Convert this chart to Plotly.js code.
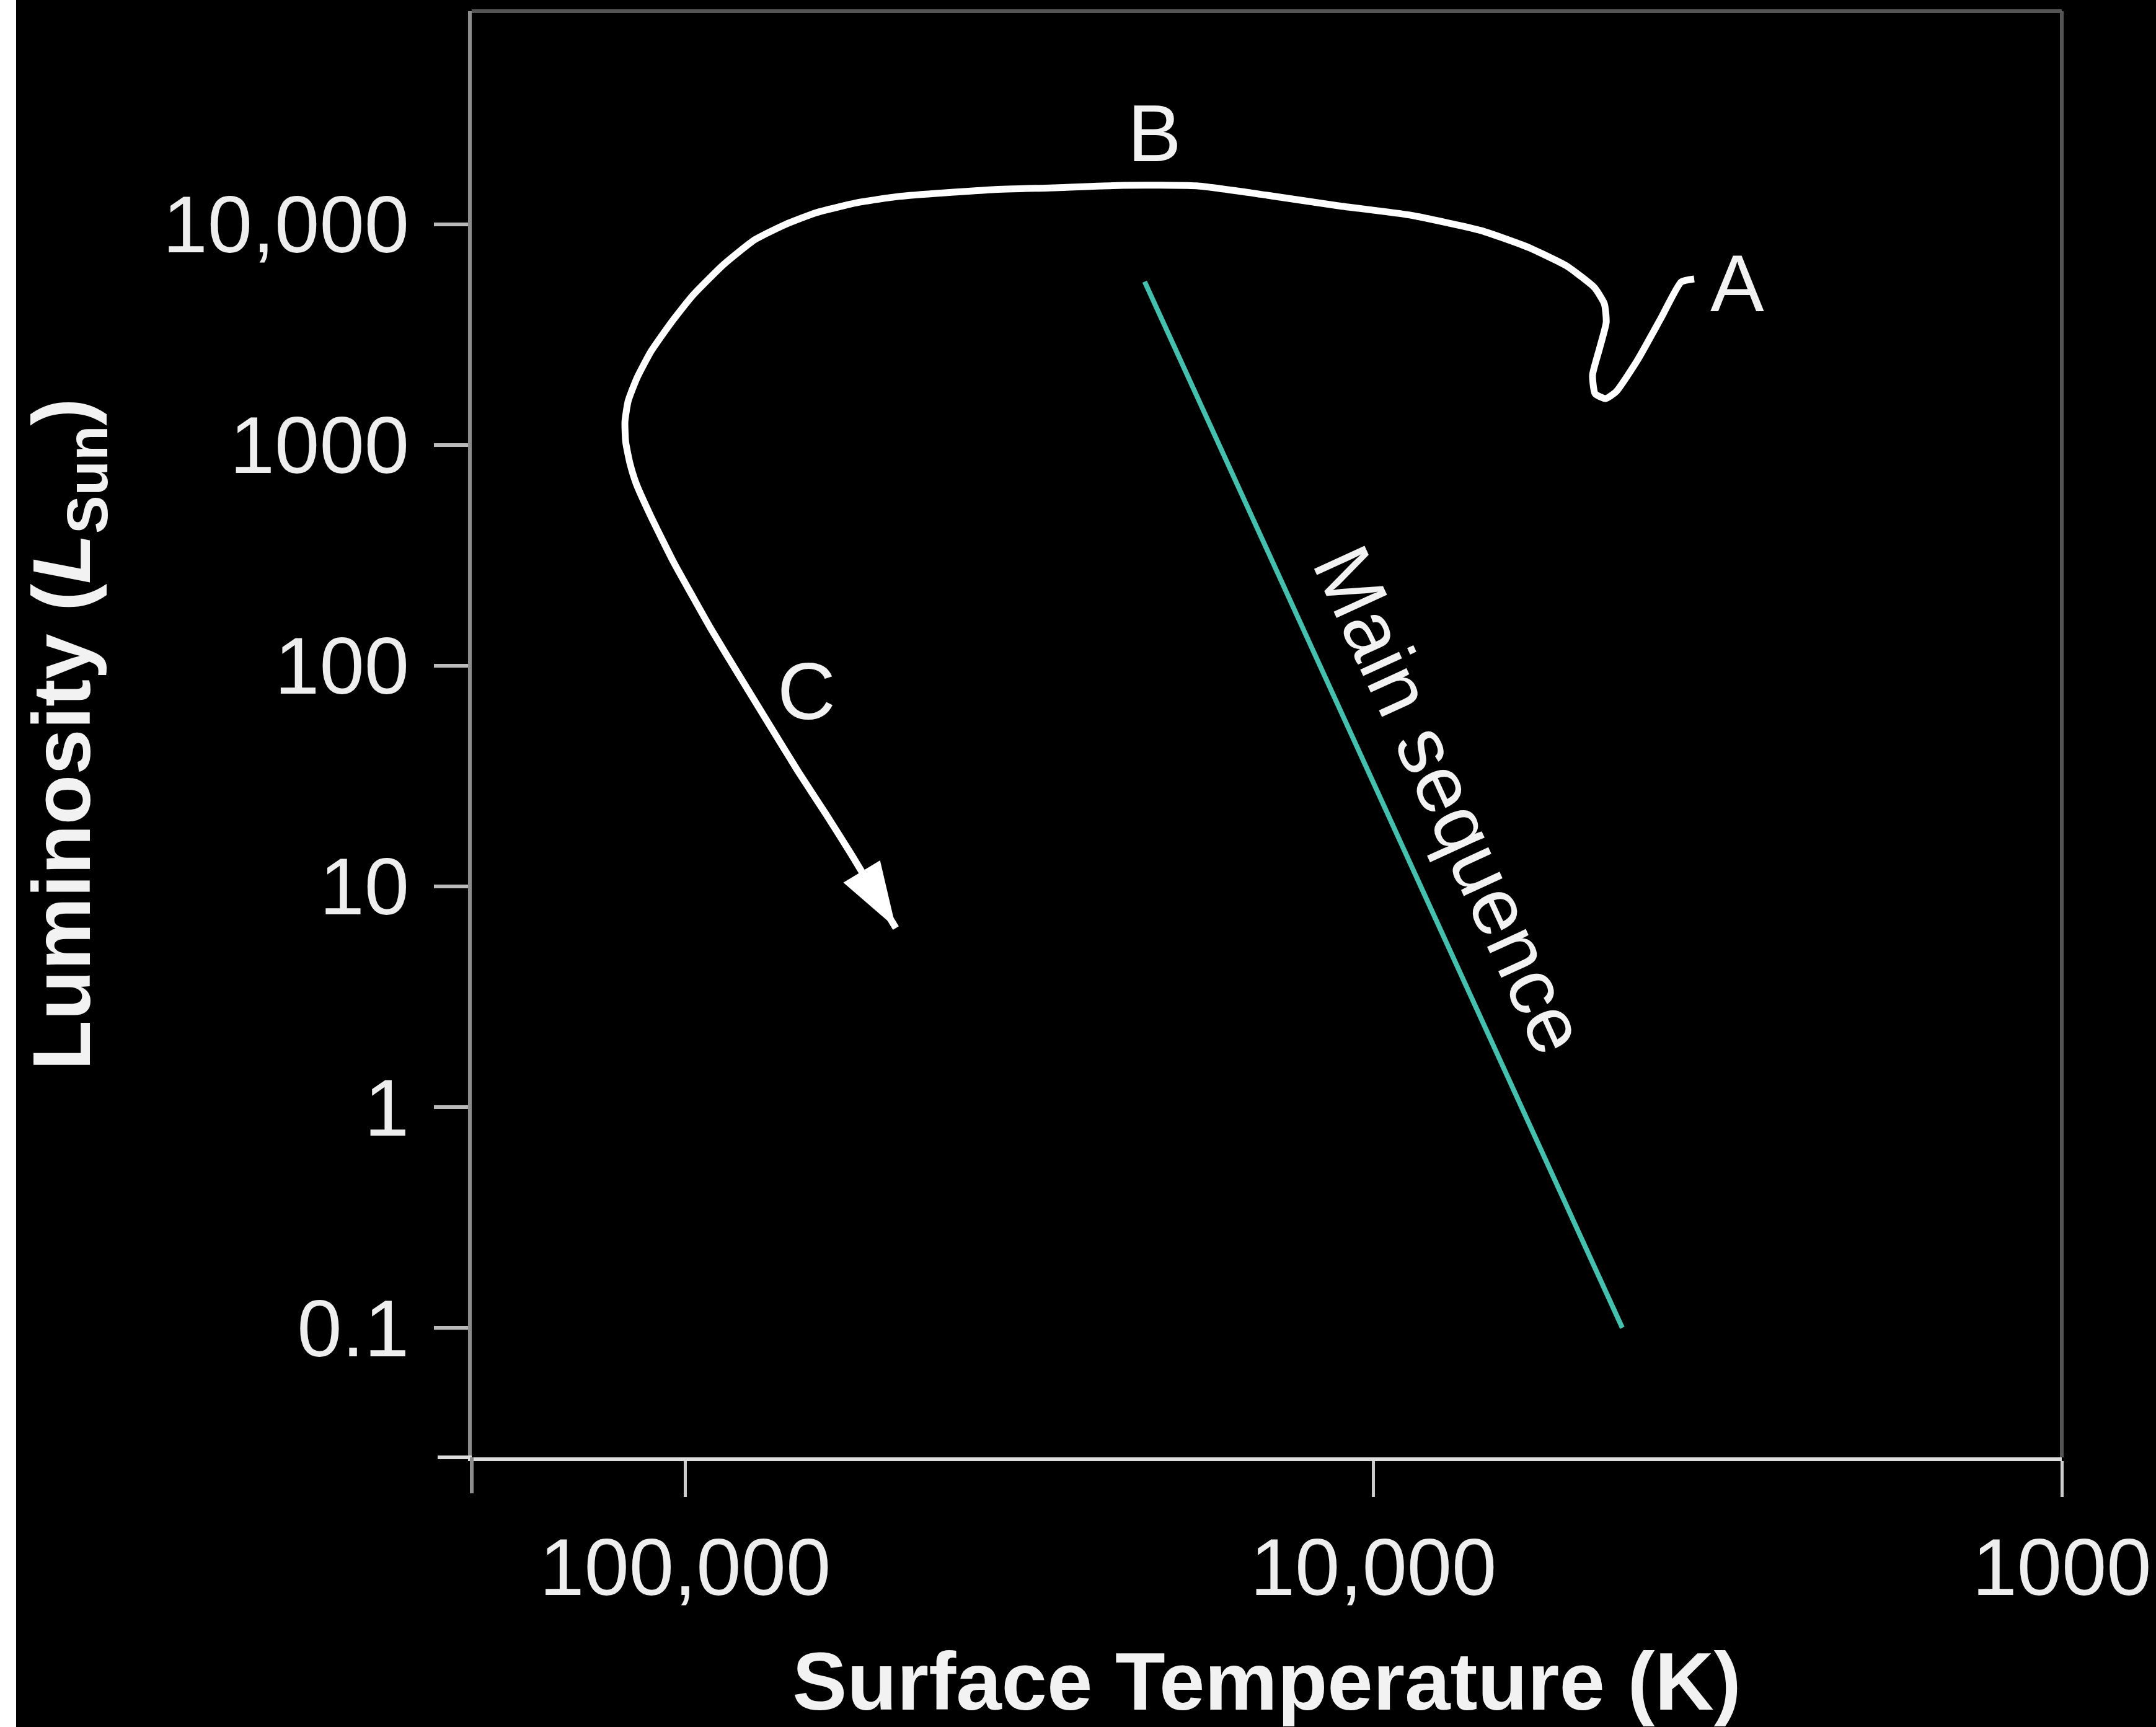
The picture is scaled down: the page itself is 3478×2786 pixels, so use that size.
<!DOCTYPE html>
<html>
<head>
<meta charset="utf-8">
<script src="https://cdn.plot.ly/plotly-3.0.1.min.js"></script>
<style>
  html, body { margin: 0; padding: 0; background: #ffffff; }
  #chart { position: absolute; left: 26px; top: 0; width: 3452px; height: 2786px; }
</style>
</head>
<body>
<div id="chart"></div>
<script>
// ---- Data ----
// Evolutionary track of the star: surface temperature (K) and luminosity (L_Sun), from A via B to C
const trackTemp = [3420, 3572, 3816, 4139, 4441, 4600, 4765, 4805, 4696, 4590, 4619, 4775,
  5243, 5962, 6981, 8858, 11240, 14270, 18070, 23090, 29120, 35760, 48900, 56190, 64440,
  71460, 79270, 87950, 97540, 104700, 112100, 117500, 121000, 122300, 122000, 120300,
  117800, 112800, 108000, 103800, 97540, 91660, 83330, 75570, 68570, 62460, 57370, 49410];
const trackLum = [5659, 5482, 3790, 2410, 1744, 1624, 1711, 2077, 2725, 3599, 4370, 5170,
  6483, 7875, 9374, 11020, 12140, 13550, 14940, 15030, 14640, 14360, 13380, 12540, 11310,
  10000, 8507, 6568, 4753, 3599, 2656, 2011, 1582, 1278, 1033, 828.6,
  669.6, 494, 374.1, 292.6, 206.4, 146.4, 89.6, 54.5, 33.3, 21.3, 14.0, 6.48];

// Main sequence line
const msTemp = [21500, 4350];
const msLum = [5500, 0.1];

// Point labels
const labelText = ['A', 'B', 'C'];
const labelTemp = [2960, 20800, 66700];
const labelLum = [5400, 25900, 76.7];
const msLabelText = 'Main sequence';
const msLabelTemp = 7730;
const msLabelLum = 24.7;

// Axis ticks
const xTickVals = [100000, 10000, 1000];
const xTickText = ['100,000', '10,000', '1000'];
const yTickVals = [0.1, 1, 10, 100, 1000, 10000];
const yTickText = ['0.1', '1', '10', '100', '1000', '10,000'];
const xRangeLog = [5.31, 3];
const yRangeLog = [-1.587, 4.966];

// ---- Chart ----
const FONT = 'Liberation Sans, Arial, Helvetica, sans-serif';
const n = trackTemp.length;
const arrowSizes = trackTemp.map((t, i) => (i === n - 1 ? 112 : 0));

const traces = [
  {
    x: msTemp, y: msLum, type: 'scatter', mode: 'lines',
    line: { color: '#45bfae', width: 8 }, hoverinfo: 'skip', showlegend: false
  },
  {
    x: trackTemp, y: trackLum, type: 'scatter', mode: 'lines+markers',
    line: { color: '#ffffff', width: 11, shape: 'spline', smoothing: 0.5 },
    marker: { symbol: 'arrow', angleref: 'previous', size: arrowSizes, color: '#ffffff',
              opacity: 1, line: { width: 0 } },
    hoverinfo: 'skip', showlegend: false
  }
];

const LABEL_FONT = { family: FONT, size: 130, color: '#f2f2f2' };
const annotations = labelText.map((t, i) => ({
  x: Math.log10(labelTemp[i]), y: Math.log10(labelLum[i]), xref: 'x', yref: 'y',
  text: t, showarrow: false, font: LABEL_FONT
}));
annotations.push({
  x: Math.log10(msLabelTemp), y: Math.log10(msLabelLum), xref: 'x', yref: 'y',
  text: msLabelText, showarrow: false, textangle: 65.4, font: LABEL_FONT
});

const W = 3452 - 735 - 152, H = 2786 - 18 - 435;
const shapes = [
  { type: 'line', xref: 'paper', yref: 'paper', x0: -55 / W, x1: 0, y0: 0, y1: 0,
    line: { color: '#dddddd', width: 6 } },
  { type: 'line', xref: 'paper', yref: 'paper', x0: 0, x1: 0, y0: 0, y1: -58 / H,
    line: { color: '#8c8c8c', width: 6 } },
  { type: 'line', xref: 'paper', yref: 'paper', x0: 0, x1: 1, y0: 1, y1: 1,
    line: { color: '#555555', width: 6 } },
  { type: 'line', xref: 'paper', yref: 'paper', x0: 1, x1: 1, y0: 0, y1: 1,
    line: { color: '#555555', width: 6 } }
];

const layout = {
  width: 3452, height: 2786,
  margin: { l: 735, r: 152, t: 18, b: 435 },
  paper_bgcolor: '#000000', plot_bgcolor: '#000000',
  font: { family: FONT, color: '#f2f2f2' },
  xaxis: {
    type: 'log', range: xRangeLog, tickvals: xTickVals, ticktext: xTickText,
    ticks: 'outside', ticklen: 58, tickwidth: 5, tickcolor: '#cccccc',
    showline: true, linecolor: '#dddddd', linewidth: 6,
    showgrid: false, zeroline: false,
    tickfont: { family: FONT, size: 130, color: '#eeeeee' },
    ticklabelstandoff: 2,
    title: { text: '<b>Surface Temperature (K)</b>', font: { family: FONT, size: 132, color: '#f2f2f2' }, standoff: 95 }
  },
  yaxis: {
    type: 'log', range: yRangeLog, tickvals: yTickVals, ticktext: yTickText,
    ticks: 'outside', ticklen: 55, tickwidth: 6, tickcolor: '#bbbbbb',
    showline: true, linecolor: '#8c8c8c', linewidth: 6,
    showgrid: false, zeroline: false,
    tickfont: { family: FONT, size: 130, color: '#eeeeee' },
    ticklabelstandoff: 14,
    title: { text: '<b>Luminosity (<i>L</i><sub>Sun</sub>)</b>', font: { family: FONT, size: 132, color: '#f2f2f2' }, standoff: 122 }
  },
  annotations: annotations,
  shapes: shapes,
  showlegend: false
};

Plotly.newPlot('chart', traces, layout, { displayModeBar: false, staticPlot: true });
</script>
</body>
</html>
